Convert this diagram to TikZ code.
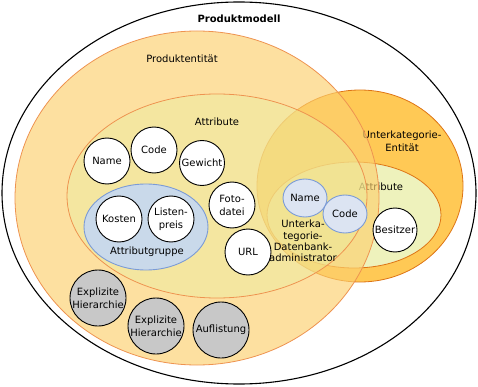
\documentclass[tikz,border=0pt]{standalone}
\usepackage{fontspec}
\setmainfont{DejaVu Sans}
\usepackage{xcolor}
\usepackage{tikz}
\usetikzlibrary{shapes.geometric}
\definecolor{prodF}{HTML}{FCD06F}
\definecolor{prodL}{HTML}{EE9350}
\definecolor{attrF}{HTML}{EBEDA0}
\definecolor{unterF}{HTML}{FFC955}
\definecolor{unterL}{HTML}{DE7414}
\definecolor{uattrF}{HTML}{EEF2BC}
\definecolor{groupF}{HTML}{C9D9EA}
\definecolor{groupL}{HTML}{7B9BD6}
\definecolor{ublueF}{HTML}{DCE4F2}
\definecolor{greyC}{HTML}{C8C8C8}

\begin{document}
\begin{tikzpicture}[x=1pt,y=-1pt,
  font=\fontsize{10}{13}\selectfont,
  attr/.style={circle,draw=black,fill=white,line width=0.9pt,
               minimum size=46pt,inner sep=0pt,align=center},
  hier/.style={attr,fill=greyC,minimum size=56pt},
  ublue/.style={ellipse,draw=groupL,fill=ublueF,line width=0.9pt,
                minimum width=44pt,minimum height=38pt,inner sep=0pt}]
  \useasboundingbox (0,0) rectangle (478,387);
  \draw[black,line width=1.1pt] (239,193) ellipse [x radius=237,y radius=191];
  \node[font=\fontsize{10}{13}\selectfont\bfseries] (modell) at (239,19) {Produktmodell};
  % Unterkategorie
  \draw[unterL,fill=unterF,line width=0.8pt] (360,186) ellipse [x radius=103,y radius=96];
  \draw[unterL,fill=uattrF,line width=0.8pt] (354,215) ellipse [x radius=87,y radius=53];
  \node[align=center] (uent) at (402,141.5) {Unterkategorie-\\Entität};
  \node (uattr) at (381,187) {Attribute};
  % Produktentitaet
  \draw[prodL,fill=prodF,fill opacity=0.66,line width=0.8pt] (197,198) ellipse [x radius=182,y radius=167];
  \draw[prodL,fill=attrF,fill opacity=0.45,line width=0.8pt] (217,196) ellipse [x radius=150,y radius=102];
  \node (pent) at (182,59) {Produktentität};
  \node (pattr) at (217,122) {Attribute};
  \draw[groupL,fill=groupF,line width=0.9pt] (146,227) ellipse [x radius=62,y radius=43];
  \node (gruppe) at (147,252) {Attributgruppe};
  \node[attr] (name) at (107,161) {Name};
  \node[attr] (code) at (154,150) {Code};
  \node[attr,minimum size=45pt] (gewicht) at (202,163) {Gewicht};
  \node[attr] (foto) at (232,205) {Foto-\\datei};
  \node[attr] (url) at (248,252) {URL};
  \node[attr] (kosten) at (119,219) {Kosten};
  \node[attr] (preis) at (171,219) {Listen-\\preis};
  \node[hier] (hierA) at (98,298) {Explizite\\Hierarchie};
  \node[hier] (hierB) at (156,326) {Explizite\\Hierarchie};
  \node[hier] (liste) at (221,330) {Auflistung};
  \node[ublue] (uname) at (305,198) {Name};
  \node[ublue] (ucode) at (345,214) {Code};
  \node[align=center,font=\fontsize{10}{11.3}\selectfont] (admin) at (303,241)
       {Unterka-\\tegorie-\\Datenbank-\\administrator};
  \node[attr,minimum size=44pt] (besitzer) at (395,230) {Besitzer};
\end{tikzpicture}
\end{document}
